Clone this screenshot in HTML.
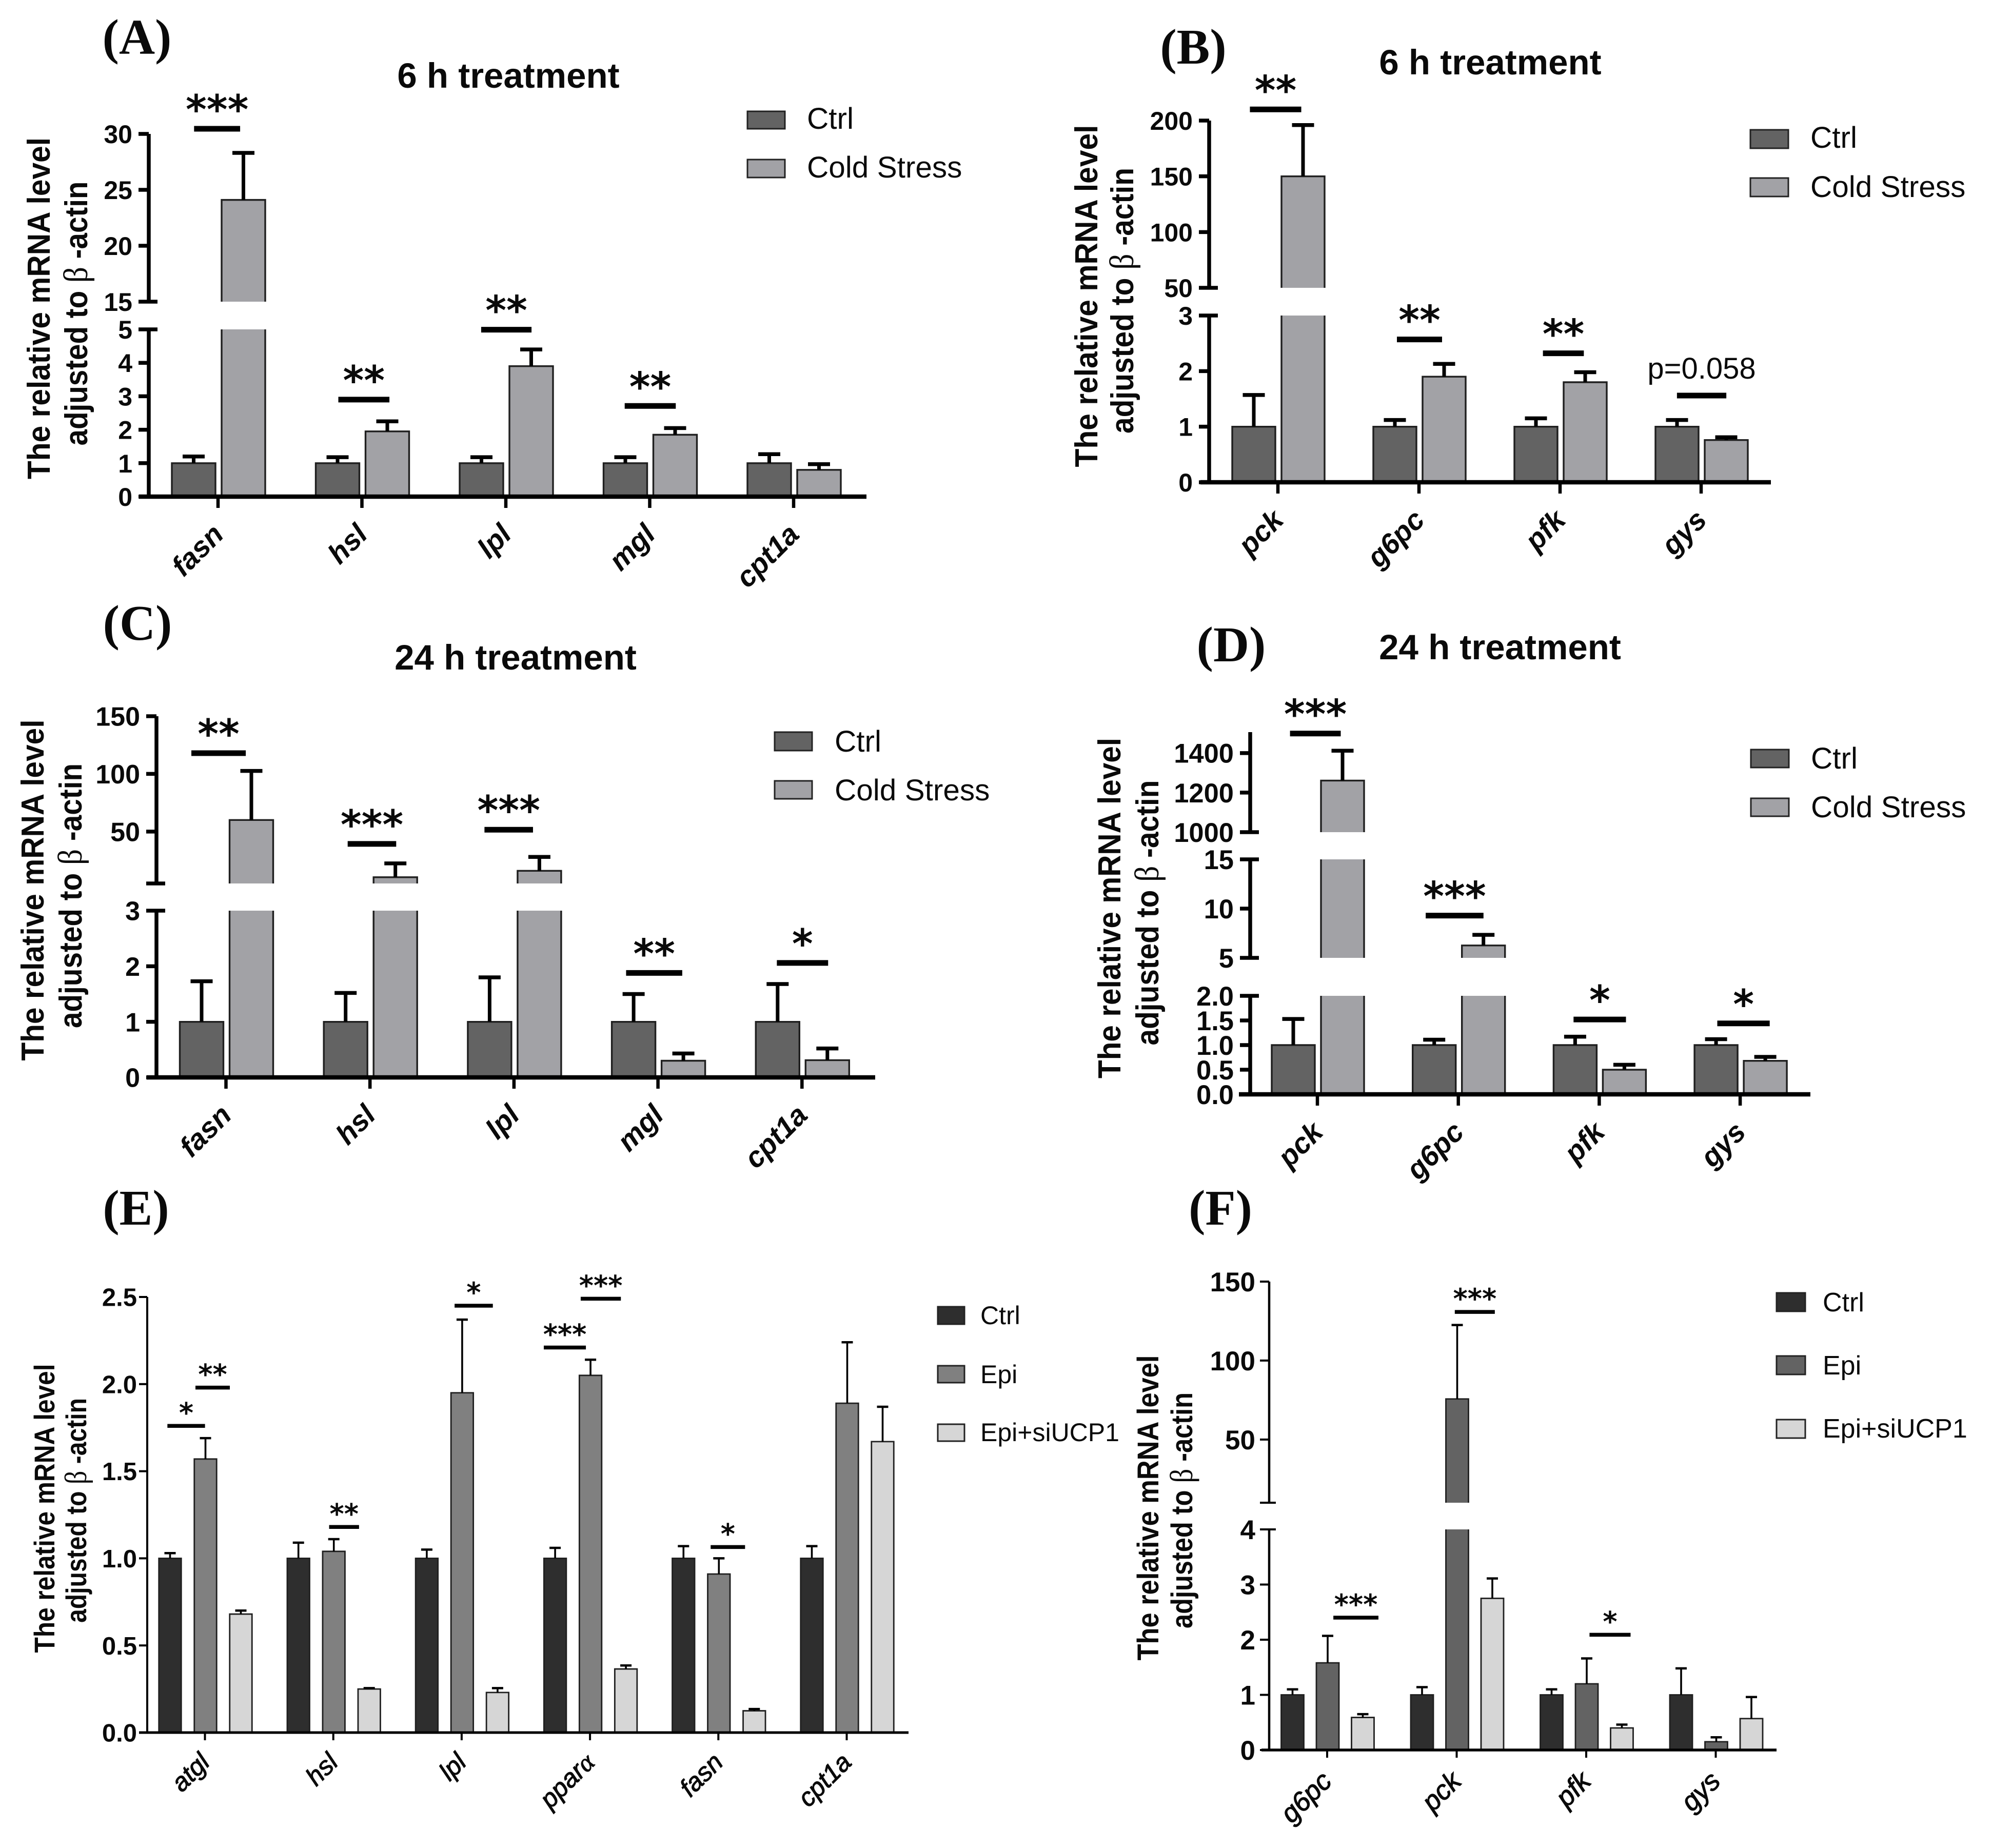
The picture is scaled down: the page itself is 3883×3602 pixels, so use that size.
<!DOCTYPE html>
<html lang="en">
<head>
<meta charset="utf-8">
<title>Relative mRNA level charts</title>
<style>
html,body{margin:0;padding:0;background:#fff;}
svg{display:block;}
text{font-family:"Liberation Sans",Arial,sans-serif;fill:#0a0a0a;}
.letter{font-family:"Liberation Serif",serif;font-weight:bold;font-size:97px;text-anchor:middle;}
.title{font-weight:bold;font-size:69px;text-anchor:middle;}
.ytitle{font-weight:bold;text-anchor:middle;}
.beta{font-family:"Liberation Serif",serif;font-weight:normal;font-size:1.08em;}
.leg{font-size:58.5px;}
.leg2{font-size:50px;}
.leg3{font-size:52px;}
</style>
</head>
<body>
<svg id="figure" xmlns="http://www.w3.org/2000/svg" width="3883" height="3602" viewBox="0 0 3883 3602">
<rect x="0" y="0" width="3883" height="3602" fill="#ffffff"/>

<g id="panel-a">
<text class="letter" x="267" y="105">(A)</text>
<text class="title" x="991" y="171">6 h treatment</text>
<text class="ytitle" font-size="62" transform="translate(97,601) rotate(-90)" textLength="666" lengthAdjust="spacingAndGlyphs">The relative mRNA level</text>
<text class="ytitle" font-size="62" transform="translate(170,611) rotate(-90)" textLength="515" lengthAdjust="spacingAndGlyphs">adjusted to <tspan class="beta">β</tspan> -actin</text>
<g>
<rect x="1457" y="217" width="73" height="34" fill="#636363" stroke="#222" stroke-width="3"/>
<text class="leg" x="1573" y="251">Ctrl</text>
<rect x="1457" y="311" width="73" height="35" fill="#a2a2a6" stroke="#222" stroke-width="3"/>
<text class="leg" x="1573" y="346">Cold Stress</text>
</g>
</g>

<g id="panel-b">
<text class="letter" x="2326" y="124">(B)</text>
<text class="title" x="2905" y="145">6 h treatment</text>
<text class="ytitle" font-size="62" transform="translate(2139,577) rotate(-90)" textLength="667" lengthAdjust="spacingAndGlyphs">The relative mRNA level</text>
<text class="ytitle" font-size="62" transform="translate(2209,586) rotate(-90)" textLength="518" lengthAdjust="spacingAndGlyphs">adjusted to <tspan class="beta">β</tspan> -actin</text>
<g>
<rect x="3412" y="253" width="74" height="36" fill="#636363" stroke="#222" stroke-width="3"/>
<text class="leg" x="3529" y="288">Ctrl</text>
<rect x="3412" y="347" width="74" height="36" fill="#a2a2a6" stroke="#222" stroke-width="3"/>
<text class="leg" x="3529" y="384">Cold Stress</text>
</g>
</g>

<g id="panel-c">
<text class="letter" x="268" y="1247">(C)</text>
<text class="title" x="1005" y="1305">24 h treatment</text>
<text class="ytitle" font-size="62" transform="translate(85,1735) rotate(-90)" textLength="665" lengthAdjust="spacingAndGlyphs">The relative mRNA level</text>
<text class="ytitle" font-size="62" transform="translate(159,1746) rotate(-90)" textLength="516" lengthAdjust="spacingAndGlyphs">adjusted to <tspan class="beta">β</tspan> -actin</text>
<g>
<rect x="1510" y="1427" width="73" height="36" fill="#636363" stroke="#222" stroke-width="3"/>
<text class="leg" x="1627" y="1465">Ctrl</text>
<rect x="1510" y="1522" width="73" height="35" fill="#a2a2a6" stroke="#222" stroke-width="3"/>
<text class="leg" x="1627" y="1560">Cold Stress</text>
</g>
</g>

<g id="panel-d">
<text class="letter" x="2400" y="1289">(D)</text>
<text class="title" x="2924" y="1285">24 h treatment</text>
<text class="ytitle" font-size="62" transform="translate(2184,1770) rotate(-90)" textLength="664" lengthAdjust="spacingAndGlyphs">The relative mRNA level</text>
<text class="ytitle" font-size="62" transform="translate(2258,1779) rotate(-90)" textLength="517" lengthAdjust="spacingAndGlyphs">adjusted to <tspan class="beta">β</tspan> -actin</text>
<g>
<rect x="3413" y="1461" width="74" height="35" fill="#636363" stroke="#222" stroke-width="3"/>
<text class="leg" x="3530" y="1498">Ctrl</text>
<rect x="3413" y="1556" width="74" height="35" fill="#a2a2a6" stroke="#222" stroke-width="3"/>
<text class="leg" x="3530" y="1593">Cold Stress</text>
</g>
</g>

<g id="panel-e">
<text class="letter" x="265" y="2387">(E)</text>
<text class="ytitle" font-size="56" transform="translate(106,2940) rotate(-90)" textLength="563" lengthAdjust="spacingAndGlyphs">The relative mRNA level</text>
<text class="ytitle" font-size="56" transform="translate(168,2944) rotate(-90)" textLength="438" lengthAdjust="spacingAndGlyphs">adjusted to <tspan class="beta">β</tspan> -actin</text>
<g>
<rect x="1828" y="2547" width="52" height="34" fill="#2e2e2e" stroke="#222" stroke-width="3"/>
<text class="leg2" x="1911" y="2581">Ctrl</text>
<rect x="1828" y="2662" width="52" height="33" fill="#808080" stroke="#222" stroke-width="3"/>
<text class="leg2" x="1911" y="2696">Epi</text>
<rect x="1828" y="2776" width="52" height="33" fill="#d6d6d6" stroke="#222" stroke-width="3"/>
<text class="leg2" x="1911" y="2809">Epi+siUCP1</text>
</g>
</g>

<g id="panel-f">
<text class="letter" x="2379" y="2387">(F)</text>
<text class="ytitle" font-size="58" transform="translate(2258,2939) rotate(-90)" textLength="595" lengthAdjust="spacingAndGlyphs">The relative mRNA level</text>
<text class="ytitle" font-size="58" transform="translate(2324,2944) rotate(-90)" textLength="460" lengthAdjust="spacingAndGlyphs">adjusted to <tspan class="beta">β</tspan> -actin</text>
<g>
<rect x="3463" y="2520" width="56" height="36" fill="#2e2e2e" stroke="#222" stroke-width="3"/>
<text class="leg3" x="3553" y="2556">Ctrl</text>
<rect x="3463" y="2643" width="56" height="36" fill="#636363" stroke="#222" stroke-width="3"/>
<text class="leg3" x="3553" y="2679">Epi</text>
<rect x="3463" y="2767" width="56" height="36" fill="#d6d6d6" stroke="#222" stroke-width="3"/>
<text class="leg3" x="3553" y="2802">Epi+siUCP1</text>
</g>
</g>
</svg>

<script>
/* ---------- Panel A data ---------- */
const aCategories = ['fasn','hsl','lpl','mgl','cpt1a'];
const aCtrl = [1,1,1,1,1];
const aCtrlErr = [1.2,1.18,1.18,1.18,1.27];
const aCold = [24.1,1.95,3.9,1.85,0.8];
const aColdErr = [28.3,2.25,4.4,2.05,0.97];
const aDomains = [[0,5],[15,30]];
const aTicks = [0,1,2,3,4,5,15,20,25,30];
const aTickLabels = ['0','1','2','3','4','5','15','20','25','30'];
const aSigLabels = ['***','**','**','**'];
const aSigCenters = [-0.01,1.01,2.0,3.0];
const aSigWidths = [0.32,0.355,0.35,0.355];
const aSigLevels = [30.46,2.9,4.99,2.71];

/* ---------- Panel B data ---------- */
const bCategories = ['pck','g6pc','pfk','gys'];
const bCtrl = [1,1,1,1];
const bCtrlErr = [1.57,1.12,1.15,1.12];
const bCold = [150,1.9,1.8,0.76];
const bColdErr = [196,2.13,1.98,0.81];
const bDomains = [[0,3],[50,200]];
const bTicks = [0,1,2,3,50,100,150,200];
const bTickLabels = ['0','1','2','3','50','100','150','200'];
const bSigLabels = ['**','**','**','p=0.058'];
const bSigCenters = [-0.02,1.0,2.02,3.0];
const bSigWidths = [0.364,0.32,0.29,0.35];
const bSigLevels = [210,2.57,2.32,1.56];

/* ---------- Panel C data ---------- */
const cCategories = ['fasn','hsl','lpl','mgl','cpt1a'];
const cCtrl = [1,1,1,1,1];
const cCtrlErr = [1.73,1.52,1.8,1.5,1.68];
const cCold = [60,10.4,16,0.3,0.31];
const cColdErr = [102.6,22.4,28,0.43,0.52];
const cDomains = [[0,3],[5,150]];
const cTicks = [0,1,2,3,5,50,100,150];
const cTickLabels = ['0','1','2','3','','50','100','150'];
const cSigLabels = ['**','***','***','**','*'];
const cSigCenters = [-0.055,1.01,1.96,2.97,4.0];
const cSigWidths = [0.378,0.337,0.337,0.39,0.356];
const cSigLevels = [118,39.3,51.6,1.88,2.06];

/* ---------- Panel D data ---------- */
const dCategories = ['pck','g6pc','pfk','gys'];
const dCtrl = [1,1,1,1];
const dCtrlErr = [1.53,1.11,1.17,1.12];
const dCold = [1261,6.26,0.5,0.68];
const dColdErr = [1412,7.34,0.6,0.76];
const dDomains = [[0,2],[5,15],[1000,1506]];
const dTicks = [0,0.5,1,1.5,2,5,10,15,1000,1200,1400];
const dTickLabels = ['0.0','0.5','1.0','1.5','2.0','5','10','15','1000','1200','1400'];
const dSigLabels = ['***','***','*','*'];
const dSigCenters = [-0.018,0.97,2.0,3.02];
const dSigWidths = [0.36,0.41,0.372,0.372];
const dSigLevels = [1499,9.29,1.52,1.44];

/* ---------- Panel E data ---------- */
const eCategories = ['atgl','hsl','lpl','pparα','fasn','cpt1a'];
const eCtrl = [1,1,1,1,1,1];
const eCtrlErr = [1.03,1.09,1.05,1.06,1.07,1.07];
const eEpi = [1.57,1.04,1.95,2.05,0.91,1.89];
const eEpiErr = [1.69,1.11,2.37,2.14,1.0,2.24];
const eSi = [0.68,0.25,0.23,0.365,0.125,1.67];
const eSiErr = [0.7,0.255,0.255,0.385,0.135,1.87];
const eDomains = [[0,2.5]];
const eTicks = [0,0.5,1,1.5,2,2.5];
const eTickLabels = ['0.0','0.5','1.0','1.5','2.0','2.5'];
const eSigLabels = ['*','**','**','*','***','***','*'];
const eSigCenters = [-0.15,0.056,1.08,2.09,2.8,3.08,4.07];
const eSigWidths = [0.293,0.268,0.233,0.298,0.328,0.313,0.268];
const eSigLevels = [1.76,1.98,1.18,2.45,2.21,2.49,1.065];

/* ---------- Panel F data ---------- */
const fCategories = ['g6pc','pck','pfk','gys'];
const fCtrl = [1,1,1,1];
const fCtrlErr = [1.1,1.14,1.1,1.48];
const fEpi = [1.58,75.7,1.2,0.15];
const fEpiErr = [2.07,122.5,1.66,0.23];
const fSi = [0.59,2.75,0.4,0.57];
const fSiErr = [0.65,3.11,0.46,0.96];
const fDomains = [[0,4],[10,150]];
const fTicks = [0,1,2,3,4,10,50,100,150];
const fTickLabels = ['0','1','2','3','4','','50','100','150'];
const fSigLabels = ['***','***','*'];
const fSigCenters = [0.218,1.136,2.18];
const fSigWidths = [0.348,0.309,0.317];
const fSigLevels = [2.4,130.8,2.09];

const SVG_NS = 'http://www.w3.org/2000/svg';

function make(parent, tag, attrs, name, text) {
  const el = document.createElementNS(SVG_NS, tag);
  Object.keys(attrs).forEach(function (k) { el.setAttribute(k, attrs[k]); });
  
  
  if (text !== undefined) el.textContent = text;
  parent.appendChild(el);
  return el;
}

function makeYScale(domains, ranges) {
  return function (v) {
    let i = 0;
    while (i < domains.length - 1 && v > domains[i][1]) i++;
    const d = domains[i], r = ranges[i];
    return r[0] + (v - d[0]) / (d[1] - d[0]) * (r[1] - r[0]);
  };
}

function drawPanel(id, data, s) {
  const root = document.getElementById(id);
  const y = makeYScale(data.domains, s.ranges);
  const xCat = function (c) { return s.x0 + c * s.dx; };
  const nSeries = data.values.length;

  /* bars and error bars */
  data.cats.forEach(function (cat, c) {
    data.values.forEach(function (vals, k) {
      const cx = xCat(c) + (k - (nSeries - 1) / 2) * s.step;
      const left = cx - s.barW / 2, right = cx + s.barW / 2;
      const v = vals[c];
      const barGroup = make(root, 'g', {}, 'bar-' + cat + '-' + data.series[k]);
      data.domains.forEach(function (dom, i) {
        if (i > 0 && v <= dom[0]) return;
        const isTop = v <= dom[1] || i === data.domains.length - 1;
        const yHigh = isTop ? y(v) : y(dom[1]);
        const yLowPx = s.ranges[i][0];
        const yHighPx = isTop ? yHigh : s.ranges[i][1];
        const d = 'M' + left + ' ' + yLowPx + 'V' + yHighPx + (isTop ? 'H' + right : 'M' + right + ' ' + yHighPx) + 'V' + yLowPx;
        make(barGroup, 'rect', {x: left, y: yHighPx, width: s.barW, height: yLowPx - yHighPx, fill: s.colors[k]}, 'bar-fill');
        make(barGroup, 'path', {d: d, fill: 'none', stroke: '#1f1f1f', 'stroke-width': s.barStroke}, 'bar-outline');
      });
      const eTop = y(data.errs[k][c]);
      const errGroup = make(root, 'g', {}, 'error-bar-' + cat + '-' + data.series[k]);
      make(errGroup, 'line', {x1: cx, x2: cx, y1: y(v), y2: eTop, stroke: '#000', 'stroke-width': s.errW}, 'error-stem');
      make(errGroup, 'line', {x1: cx - s.capW / 2, x2: cx + s.capW / 2, y1: eTop, y2: eTop, stroke: '#000', 'stroke-width': s.capT}, 'error-cap');
    });
  });

  /* y axis */
  const yAxis = make(root, 'g', {}, 'y-axis');
  data.domains.forEach(function (dom, i) {
    make(yAxis, 'line', {x1: s.axisX, x2: s.axisX, y1: s.ranges[i][0], y2: s.ranges[i][1], stroke: '#000', 'stroke-width': s.axisW}, 'y-axis-segment');
  });
  const lastDomain = data.domains[data.domains.length - 1];
  data.ticks.forEach(function (t, i) {
    const ty = y(t);
    const isBreakEnd = data.domains.some(function (dom) {
      return (dom[0] === t && t !== 0) || (dom[1] === t && t !== lastDomain[1]);
    });
    const x2 = isBreakEnd ? s.axisX + s.breakExt : s.axisX;
    make(yAxis, 'line', {x1: s.axisX - s.tickLen, x2: x2, y1: ty, y2: ty, stroke: '#000', 'stroke-width': s.tickT}, 'y-tick');
    if (data.tickLabels[i] !== '') {
      make(yAxis, 'text', {x: s.axisX - s.labelGap, y: ty + s.tickFont * 0.36, 'text-anchor': 'end', 'font-size': s.tickFont, 'font-weight': 'bold'}, 'y-tick-label', data.tickLabels[i]);
    }
  });

  /* x axis */
  const xAxis = make(root, 'g', {}, 'x-axis');
  make(xAxis, 'line', {x1: s.xMin, x2: s.xMax, y1: s.ranges[0][0], y2: s.ranges[0][0], stroke: '#000', 'stroke-width': s.xAxisW}, 'x-axis-line');
  data.cats.forEach(function (cat, c) {
    const tx = xCat(c) - 1;
    const base = s.ranges[0][0];
    make(xAxis, 'line', {x1: tx, x2: tx, y1: base, y2: base + s.xTickLen, stroke: '#000', 'stroke-width': s.xTickT}, 'x-tick');
    const hasAlpha = cat.indexOf('α') >= 0;
    const catText = make(xAxis, 'text', {
      'text-anchor': 'end',
      'font-size': s.catFont,
      'font-weight': s.catWeight,
      'font-style': 'italic',
      stroke: '#0a0a0a',
      'stroke-width': s.catStroke,
      transform: 'translate(' + (tx + s.catDx) + ',' + (base + s.catDy) + ') rotate(-45)'
    }, 'x-label-' + cat, cat.replace('α', ''));
    if (hasAlpha) {
      make(catText, 'tspan', {style: 'font-family:"Liberation Serif",serif'}, 'x-label-alpha', 'α');
    }
  });

  /* significance annotations */
  data.sigLabels.forEach(function (label, i) {
    const cx = xCat(data.sigCenters[i]);
    const w = data.sigWidths[i] * s.dx;
    const by = y(data.sigLevels[i]);
    const g = make(root, 'g', {}, 'significance-' + i);
    make(g, 'line', {x1: cx - w / 2, x2: cx + w / 2, y1: by, y2: by, stroke: '#000', 'stroke-width': s.sigT}, 'significance-bar');
    if (label.charAt(0) === 'p') {
      make(g, 'text', {x: cx, y: by - 33, 'text-anchor': 'middle', 'font-size': 58}, 'p-value-label', label);
    } else {
      make(g, 'text', {
        x: cx,
        y: by - s.starOff + s.starFont * 0.5,
        'text-anchor': 'middle',
        'font-size': s.starFont,
        'font-weight': 'bold',
        style: 'font-family:"DejaVu Sans",sans-serif'
      }, 'significance-stars', label);
    }
  });
}

const twoBarStyle = {
  barW: 85, step: 97, barStroke: 3.4, errW: 7, capW: 43, capT: 7.5,
  axisW: 7.5, xAxisW: 8.5, tickLen: 20, tickT: 7.5, breakExt: 17, labelGap: 32, tickFont: 51,
  xTickLen: 22, xTickT: 6.5, catFont: 56, catWeight: 'bold', catStroke: 0, catDx: 14, catDy: 77,
  sigT: 11, starOff: 49, starFont: 78,
  colors: ['#636363', '#a2a2a6']
};
const threeBarStyle = {
  barW: 43.5, step: 69, barStroke: 2.8, errW: 3.6, capW: 22, capT: 4.5,
  axisW: 4, xAxisW: 5, tickLen: 16, tickT: 4, breakExt: 13, labelGap: 20, tickFont: 49,
  xTickLen: 15, xTickT: 4, catFont: 50, catWeight: 'normal', catStroke: 1.2, catDx: 12, catDy: 61,
  sigT: 7.5, starOff: 34, starFont: 54
};

drawPanel('panel-a', {
  cats: aCategories, series: ['ctrl', 'cold-stress'],
  values: [aCtrl, aCold], errs: [aCtrlErr, aColdErr],
  domains: aDomains, ticks: aTicks, tickLabels: aTickLabels,
  sigLabels: aSigLabels, sigCenters: aSigCenters, sigWidths: aSigWidths, sigLevels: aSigLevels
}, Object.assign({}, twoBarStyle, {x0: 426, dx: 280.5, axisX: 290, xMin: 271, xMax: 1689, tickFont: 50, ranges: [[968, 642], [588, 261]]}));

drawPanel('panel-b', {
  cats: bCategories, series: ['ctrl', 'cold-stress'],
  values: [bCtrl, bCold], errs: [bCtrlErr, bColdErr],
  domains: bDomains, ticks: bTicks, tickLabels: bTickLabels,
  sigLabels: bSigLabels, sigCenters: bSigCenters, sigWidths: bSigWidths, sigLevels: bSigLevels
}, Object.assign({}, twoBarStyle, {x0: 2492, dx: 275, barW: 84, step: 96, axisX: 2357, xMin: 2340, xMax: 3452, tickFont: 50, ranges: [[940, 615], [561, 235]]}));

drawPanel('panel-c', {
  cats: cCategories, series: ['ctrl', 'cold-stress'],
  values: [cCtrl, cCold], errs: [cCtrlErr, cColdErr],
  domains: cDomains, ticks: cTicks, tickLabels: cTickLabels,
  sigLabels: cSigLabels, sigCenters: cSigCenters, sigWidths: cSigWidths, sigLevels: cSigLevels
}, Object.assign({}, twoBarStyle, {x0: 441.5, dx: 280.7, axisX: 305, xMin: 286, xMax: 1706, tickFont: 52, ranges: [[2100, 1775], [1722, 1396]]}));

drawPanel('panel-d', {
  cats: dCategories, series: ['ctrl', 'cold-stress'],
  values: [dCtrl, dCold], errs: [dCtrlErr, dColdErr],
  domains: dDomains, ticks: dTicks, tickLabels: dTickLabels,
  sigLabels: dSigLabels, sigCenters: dSigCenters, sigWidths: dSigWidths, sigLevels: dSigLevels
}, Object.assign({}, twoBarStyle, {x0: 2569, dx: 274.7, barW: 84, step: 96, axisX: 2437, xMin: 2415, xMax: 3529, tickFont: 52.5, ranges: [[2133, 1941], [1867, 1675], [1622, 1427]]}));

drawPanel('panel-e', {
  cats: eCategories, series: ['ctrl', 'epi', 'epi-siucp1'],
  values: [eCtrl, eEpi, eSi], errs: [eCtrlErr, eEpiErr, eSiErr],
  domains: eDomains, ticks: eTicks, tickLabels: eTickLabels,
  sigLabels: eSigLabels, sigCenters: eSigCenters, sigWidths: eSigWidths, sigLevels: eSigLevels
}, Object.assign({}, threeBarStyle, {x0: 400.5, dx: 250.2, axisX: 287, xMin: 271, xMax: 1771, ranges: [[3377, 2528]], colors: ['#2e2e2e', '#808080', '#d6d6d6']}));

drawPanel('panel-f', {
  cats: fCategories, series: ['ctrl', 'epi', 'epi-siucp1'],
  values: [fCtrl, fEpi, fSi], errs: [fCtrlErr, fEpiErr, fSiErr],
  domains: fDomains, ticks: fTicks, tickLabels: fTickLabels,
  sigLabels: fSigLabels, sigCenters: fSigCenters, sigWidths: fSigWidths, sigLevels: fSigLevels
}, Object.assign({}, threeBarStyle, {x0: 2588, dx: 252.5, barW: 44, step: 68.5, axisX: 2474, xMin: 2459, xMax: 3463, axisW: 4.5, xAxisW: 5.5, tickLen: 18, tickFont: 53, labelGap: 27, catFont: 53, catDx: 12, catDy: 64, ranges: [[3411, 2981], [2929, 2498]], colors: ['#2e2e2e', '#636363', '#d6d6d6']}));
</script>
</body>
</html>
